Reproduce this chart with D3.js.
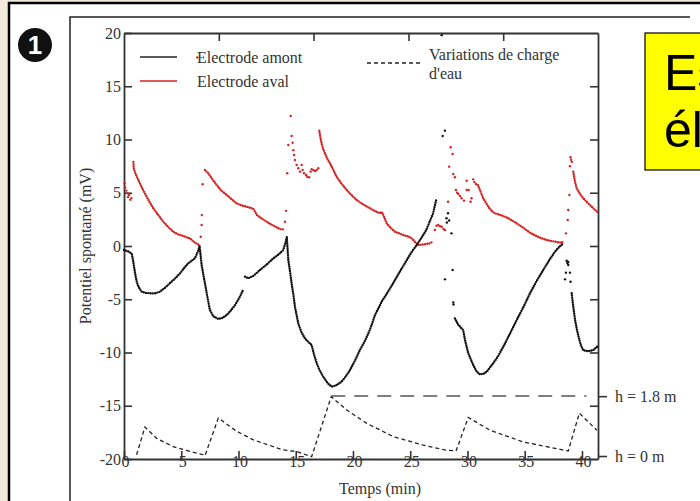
<!DOCTYPE html>
<html><head><meta charset="utf-8">
<script src="https://cdn.jsdelivr.net/npm/d3@7/dist/d3.min.js"></script>
<style>
html,body{margin:0;padding:0;background:#f0e9dc;overflow:hidden;}
svg{display:block;}
</style></head><body>
<svg id="c" width="700" height="501"></svg>
<script>
// ---------- data ----------
const xTicks = [0, 5, 10, 15, 20, 25, 30, 35, 40];
const yTicks = [20, 15, 10, 5, 0, -5, -10, -15, -20];
const topTicks = [8.28, 16.55, 24.85, 33.12];
const rightTicks = [15, 10, 5, 0, -5, -10, -15];
const hLabels = ["h = 1.8 m", "h = 0 m"];
const hValues = [-14.1, -19.72];
const legendLabels = ["Electrode amont", "Electrode aval", "Variations de charge", "d'eau"];

// Electrode amont (black) – connected runs (null = gap)
const amontCurve = [
  [0,-0.38],[0.35,-0.5],[0.67,-0.69],[0.8,-1.4],[0.96,-2.5],[1.1,-3.3],[1.25,-3.8],[1.54,-4.29],[1.9,-4.4],[2.27,-4.44],[2.7,-4.45],[3.14,-4.29],[3.6,-3.9],[4.0,-3.5],[4.5,-3.0],[4.9,-2.56],[5.3,-2.0],[5.6,-1.63],[6.2,-1.15],[6.5,-0.38],[6.6,0.05],
  [6.78,-1.78],[7.07,-3.5],[7.28,-4.76],[7.5,-6.0],[7.8,-6.6],[8.24,-6.85],[8.6,-6.75],[8.97,-6.48],[9.3,-6.1],[9.7,-5.54],[10.1,-4.8],[10.4,-4.13],
  null,
  [10.57,-2.88],[10.86,-3.03],[11.3,-2.8],[11.88,-2.25],[12.5,-1.7],[13.04,-1.16],[13.5,-0.8],[13.9,-0.38],[14.1,0.3],[14.22,0.85],
  [14.35,-1.31],[14.5,-2.4],[14.64,-3.5],[14.8,-4.6],[14.93,-5.7],[15.22,-7.26],[15.5,-8.1],[15.8,-8.67],[16.1,-9.0],[16.39,-9.3],[16.6,-10.2],[16.83,-11.0],[17.1,-11.7],[17.4,-12.27],[17.8,-12.9],[18.14,-13.2],[18.5,-13.1],[19.0,-12.74],[19.4,-12.2],[19.74,-11.64],[20.2,-10.7],[20.6,-9.77],[21.0,-9.0],[21.34,-8.2],[21.6,-7.5],[21.92,-6.48],[22.2,-5.9],[22.5,-5.23],[23.0,-4.4],[23.5,-3.5],[24.1,-2.4],[24.7,-1.31],[25.1,-0.6],[25.56,0.09],[26.0,0.8],[26.4,1.5],[26.7,2.3],[27.0,3.07],[27.15,3.8],[27.3,4.48],
  null,
  [28.9,-6.8],[29.2,-7.4],[29.63,-7.9],[29.78,-8.8],[30.07,-10.07],[30.5,-11.17],[30.8,-11.8],[31.1,-12.05],[31.4,-12.0],[31.68,-11.8],[32.25,-11.0],[32.7,-10.3],[33.13,-9.45],[33.7,-8.25],[34.3,-6.95],[34.9,-5.7],[35.46,-4.44],[36.0,-3.35],[36.62,-2.25],[37.1,-1.4],[37.64,-0.53],[38.0,-0.1],[38.37,0.25],
  null,
  [39.1,-4.44],[39.24,-5.7],[39.4,-6.95],[39.55,-7.8],[39.7,-8.5],[39.9,-9.3],[40.1,-9.77],[40.4,-9.86],[40.7,-9.86],[41.0,-9.75],[41.3,-9.5],[41.4,-9.3]
];
// Electrode amont – isolated points
const amontPoints = [
  [27.75,19.8],[27.83,10.33],[28.03,10.83],[28.03,-3.13],[28.3,3.07],[28.17,2.6],[28.4,2.4],[28.2,2.2],[28.6,1.19],[28.7,-2.25],[28.76,-5.3],[28.78,-5.5],
  [38.66,-1.38],[38.8,-1.5],[38.72,-1.6],[38.8,-1.78],[38.6,-2.5],[38.95,-2.5],[38.52,-3.13],[39.0,-3.35]
];

// Electrode aval (red) – connected runs
const avalCurve = [
  [0.82,7.9],[0.85,7.3],[1.0,6.8],[1.25,6.2],[1.6,5.4],[1.98,4.63],[2.25,4.1],[2.56,3.54],[3.0,2.9],[3.43,2.28],[3.9,1.75],[4.3,1.34],[4.7,1.1],[5.18,0.94],[5.5,0.8],[5.76,0.72],[6.0,0.5],[6.2,0.31],[6.58,0.09],
  null,
  [7.07,7.14],[7.2,7.0],[7.36,6.83],[7.7,6.3],[8.1,5.73],[8.5,5.2],[8.97,4.79],[9.4,4.4],[9.84,4.0],[10.3,3.8],[10.7,3.69],[11.0,3.6],[11.3,3.5],[11.6,2.91],[12.0,2.6],[12.46,2.28],[12.9,2.0],[13.34,1.75],[13.6,1.6],[13.9,1.56],
  null,
  [17.06,10.83],[17.15,10.2],[17.26,9.64],[17.4,9.1],[17.55,8.7],[17.75,8.2],[17.99,7.76],[18.3,7.1],[18.57,6.5],[19.0,5.85],[19.45,5.26],[19.9,4.75],[20.32,4.32],[20.9,3.9],[21.48,3.54],[21.9,3.3],[22.36,3.07],[22.5,3.2],[22.65,2.91],[22.94,2.13],[23.3,1.7],[23.67,1.34],[24.0,1.2],[24.4,1.03],[24.8,0.9],[25.13,0.72],[25.4,0.4],[25.7,0.09],[26.0,0.12],[26.4,0.19],[26.7,0.25],[26.96,0.4],
  null,
  [30.74,5.82],[30.9,5.73],[31.09,5.26],[31.38,4.48],[31.82,3.69],[32.1,3.3],[32.4,3.07],[32.9,2.9],[33.42,2.69],[33.9,2.4],[34.3,2.13],[34.9,1.7],[35.46,1.25],[35.9,1.0],[36.33,0.78],[36.8,0.6],[37.2,0.5],[37.7,0.4],[38.2,0.31],[38.43,0.4],
  null,
  [39.24,6.98],[39.39,6.04],[39.54,5.42],[39.83,4.88],[40.1,4.5],[40.4,4.16],[40.7,3.85],[40.99,3.54],[41.3,3.25],[41.4,3.15]
];
// Electrode aval – isolated points
const avalPoints = [
  [0.05,5.9],[0.1,5.5],[0.2,5.2],[0.3,4.95],[0.35,4.6],[0.45,4.8],[0.55,4.35],[0.65,4.5],
  [6.4,17.7],
  [6.7,0.87],[6.78,1.97],[6.8,2.9],[6.87,5.8],
  [14.06,2.28],[14.15,3.3],[14.26,6.83],[14.35,9.48],[14.56,12.2],[14.64,10.33],[14.73,9.7],[14.79,9.0],[14.85,8.54],[14.93,8.07],[15.08,7.6],[15.23,7.3],[15.37,6.98],[15.52,7.6],[15.6,7.14],[15.72,6.83],[15.9,6.67],[16.0,6.5],[16.18,6.45],[16.3,6.98],[16.39,7.2],[16.53,7.14],[16.68,7.04],[16.83,7.14],[16.97,7.3],
  [27.16,1.5],[27.3,1.9],[27.45,1.97],[27.6,1.85],[27.75,1.81],[27.9,1.6],[28.03,1.5],[28.3,4.16],[28.4,7.45],[28.53,9.27],[28.7,8.64],[28.76,6.76],[28.9,6.45],[28.99,5.26],[29.1,5.0],[29.2,4.88],[29.35,4.7],[29.49,4.48],[29.7,4.26],[29.93,5.26],[29.93,6.13],[30.1,5.26],[30.27,4.16],[30.35,4.48],[30.5,6.26],[30.6,6.0],
  [38.6,1.19],[38.75,2.44],[38.8,3.38],[38.9,4.79],[38.95,7.5],[39.0,8.33],[39.05,8.1],[39.12,7.9]
];

// Variations de charge d'eau (dashed), on mV scale
const chargeCurve = [
  [1.1,-19.6],[1.83,-17.0],[2.85,-18.06],[4.3,-18.84],[5.47,-19.2],[6.93,-19.6],[7.07,-19.7],
  [8.24,-16.15],[9.84,-17.4],[11.3,-18.2],[13.9,-19.15],[15.08,-19.3],[16.39,-19.78],
  [18.1,-14.15],[19.45,-15.4],[21.2,-16.65],[23.52,-17.9],[26.14,-18.7],[28.03,-19.15],[29.0,-19.25],
  [30.07,-16.1],[31.97,-17.3],[34.87,-18.4],[38.8,-19.25],
  [39.77,-15.7],[41.3,-17.3]
];
const levelLine = [[18.1,-14.08],[40.4,-14.08]];

// ---------- drawing ----------
const svg = d3.select("#c");
const serif = "'Liberation Serif','Times New Roman',serif";
const axisCol = "#333";

// slide frame
svg.append("rect").attr("x",9).attr("y",3).attr("width",720).attr("height",520)
  .attr("fill","#fff").attr("stroke","#000").attr("stroke-width",2.5);
svg.append("path").attr("d","M70,501V17H690").attr("fill","none").attr("stroke","#222").attr("stroke-width",1.5);

// circled number
svg.append("circle").attr("cx",35).attr("cy",45).attr("r",17).attr("fill","#111");
svg.append("text").attr("x",35).attr("y",54).attr("text-anchor","middle")
  .attr("font-family","'Liberation Sans',Arial,sans-serif").attr("font-weight","bold")
  .attr("font-size",26).attr("fill","#fff").text("1");

const x = d3.scaleLinear().domain([0, 41.4]).range([124, 598]);
const y = d3.scaleLinear().domain([-20, 20]).range([459, 33]);
const fmt = d => String(d);

function styleAxis(g){
  g.select(".domain").attr("stroke",axisCol).attr("stroke-width",1.8);
  g.selectAll(".tick line").attr("stroke",axisCol).attr("stroke-width",1.6);
  g.selectAll("text").attr("font-family",serif).attr("font-size",16).attr("fill","#333");
}

svg.append("g").attr("transform","translate(124,0)")
  .call(d3.axisLeft(y).tickValues(yTicks).tickFormat(fmt).tickSize(-8).tickSizeOuter(0).tickPadding(3))
  .call(styleAxis);
const gb = svg.append("g").attr("transform","translate(0,459)")
  .call(d3.axisBottom(x).tickValues(xTicks).tickFormat(fmt).tickSize(-8).tickSizeOuter(0).tickPadding(-3))
  .call(styleAxis);
gb.selectAll(".tick text").attr("dx",1);
svg.append("g").attr("transform","translate(0,33)")
  .call(d3.axisTop(x).tickValues(topTicks).tickSize(-8).tickSizeOuter(0).tickFormat(""))
  .call(styleAxis);
svg.append("g").attr("transform","translate(598,0)")
  .call(d3.axisRight(y).tickValues(rightTicks).tickSize(-8).tickSizeOuter(0).tickFormat(""))
  .call(styleAxis);
// h level ticks (outward)
const hg = svg.append("g").attr("transform","translate(598,0)")
  .call(d3.axisRight(y).tickValues(hValues).tickSize(9).tickSizeOuter(0).tickPadding(8)
    .tickFormat((d,i)=>hLabels[i]))
  .call(styleAxis);
hg.select(".domain").remove();

// axis titles
svg.append("text").attr("x",380).attr("y",494).attr("text-anchor","middle")
  .attr("font-family",serif).attr("font-size",16).attr("fill","#333").text("Temps (min)");
svg.append("text").attr("transform","translate(91,246) rotate(-90)").attr("text-anchor","middle")
  .attr("font-family",serif).attr("font-size",16).attr("fill","#333").text("Potentiel spontané (mV)");

const line = d3.line().defined(d => d !== null).x(d => x(d[0])).y(d => y(d[1]));

const plot = svg.append("g");
// water charge
plot.append("path").datum(chargeCurve).attr("d", line).attr("fill","none")
  .attr("stroke","#222").attr("stroke-width",1.3).attr("stroke-dasharray","4,3");
plot.append("path").datum(levelLine).attr("d", line).attr("fill","none")
  .attr("stroke","#555").attr("stroke-width",1.6).attr("stroke-dasharray","14,9");

function dotted(data, color){
  plot.append("path").datum(data).attr("d", line).attr("fill","none")
    .attr("stroke",color).attr("stroke-width",2.4).attr("stroke-linecap","round")
    .attr("stroke-dasharray","0,2.3");
}
function points(data, color){
  plot.selectAll(null).data(data).join("circle")
    .attr("cx",d=>x(d[0])).attr("cy",d=>y(d[1])).attr("r",1.2).attr("fill",color);
}
dotted(avalCurve, "#d42424");
points(avalPoints, "#d42424");
dotted(amontCurve, "#111");
points(amontPoints, "#111");

// legend
const lg = svg.append("g").attr("font-family",serif).attr("font-size",16).attr("fill","#333");
lg.append("line").attr("x1",140).attr("x2",177).attr("y1",57).attr("y2",57).attr("stroke","#222").attr("stroke-width",1.5);
lg.append("text").attr("x",197).attr("y",63).text(legendLabels[0]);
lg.append("line").attr("x1",140).attr("x2",177).attr("y1",81).attr("y2",81).attr("stroke","#d42424").attr("stroke-width",1.5);
lg.append("text").attr("x",197).attr("y",87).text(legendLabels[1]);
lg.append("line").attr("x1",367).attr("x2",422).attr("y1",63).attr("y2",63).attr("stroke","#222").attr("stroke-width",1.3).attr("stroke-dasharray","4,3");
lg.append("text").attr("x",429).attr("y",60).text(legendLabels[2]);
lg.append("text").attr("x",429).attr("y",79).text(legendLabels[3]);

// yellow title box (cut off at the right edge, as in the slide)
svg.append("rect").attr("x",645).attr("y",33).attr("width",80).attr("height",137)
  .attr("fill","#ffff00").attr("stroke","#000").attr("stroke-width",1.2);
const tb = svg.append("g").attr("font-family","'Liberation Sans',Arial,sans-serif").attr("font-size",50).attr("fill","#000");
tb.append("text").attr("x",664).attr("y",90).text("Es");
tb.append("text").attr("x",664).attr("y",147).text("él");
</script>
</body></html>
